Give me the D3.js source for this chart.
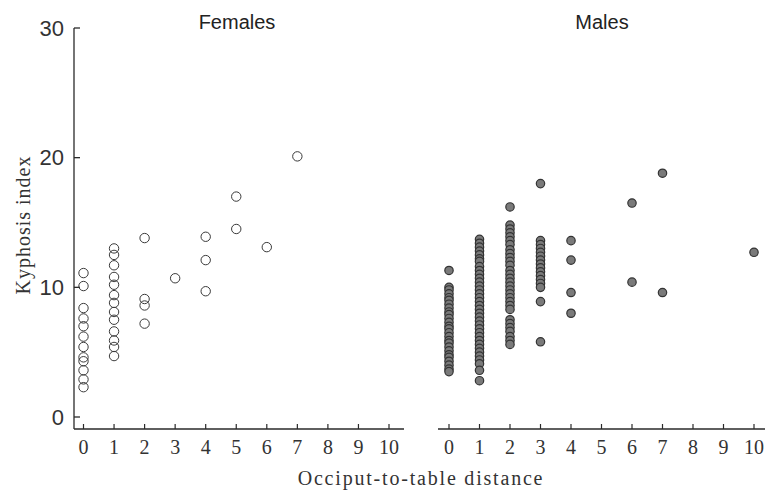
<!DOCTYPE html>
<html>
<head>
<meta charset="utf-8">
<script src="https://cdn.jsdelivr.net/npm/d3@7"></script>
<style>
  body { margin: 0; background: #fff; }
  svg { display: block; }
</style>
</head>
<body>
<svg id="chart" width="765" height="493"></svg>
<script>
// kyphosis index by occiput-to-table distance, one list of values per distance
const distTicks = [0, 1, 2, 3, 4, 5, 6, 7, 8, 9, 10];
const kyphTicks = [0, 10, 20, 30];

const femaleCols = [
  [0, [11.1, 10.1, 8.4, 7.6, 7.0, 6.2, 5.4, 4.6, 4.3, 3.6, 2.9, 2.3]],
  [1, [13.0, 12.5, 11.7, 10.8, 10.2, 9.4, 8.8, 8.1, 7.5, 6.6, 5.9, 5.4, 4.7]],
  [2, [13.8, 9.1, 8.6, 7.2]],
  [3, [10.7]],
  [4, [13.9, 12.1, 9.7]],
  [5, [17.0, 14.5]],
  [6, [13.1]],
  [7, [20.1]]
];

const maleCols = [
  [0, [11.3, 10.0, 9.8, 9.5, 9.2, 9.0, 8.7, 8.4, 8.1, 7.9, 7.6, 7.3, 7.0, 6.8, 6.5, 6.2, 5.9, 5.7, 5.4, 5.1, 4.8, 4.6, 4.3, 4.0, 3.7, 3.5]],
  [1, [13.7, 13.4, 13.1, 12.8, 12.5, 12.2, 12.0, 11.6, 11.3, 11.0, 10.7, 10.4, 10.1, 9.8, 9.5, 9.2, 8.9, 8.6, 8.3, 8.0, 7.7, 7.4, 7.1, 6.8, 6.5, 6.2, 5.9, 5.6, 5.3, 5.0, 4.7, 4.4, 4.1, 3.6, 2.8]],
  [2, [16.2, 14.8, 14.5, 14.2, 13.9, 13.6, 13.3, 12.9, 12.6, 12.3, 12.0, 11.7, 11.3, 11.0, 10.7, 10.4, 10.1, 9.8, 9.5, 9.2, 8.9, 8.6, 8.3, 7.5, 7.2, 6.9, 6.6, 6.2, 5.9, 5.6]],
  [3, [18.0, 13.6, 13.3, 13.0, 12.7, 12.4, 12.1, 11.8, 11.5, 11.2, 10.9, 10.6, 10.3, 10.0, 8.9, 5.8]],
  [4, [13.6, 12.1, 9.6, 8.0]],
  [6, [16.5, 10.4]],
  [7, [18.8, 9.6]],
  [10, [12.7]]
];

function flatten(cols) {
  const pts = [];
  cols.forEach(function(c) {
    c[1].forEach(function(v) { pts.push({ d: c[0], k: v }); });
  });
  return pts;
}

const svg = d3.select("#chart");
const serif = "'Liberation Serif', 'DejaVu Serif', serif";
const sans = "'Liberation Sans', Arial, sans-serif";
const ink = "#2a2a2a";

const y = d3.scaleLinear().domain([0, 30]).range([417, 28]);
const xF = d3.scaleLinear().domain([0, 10]).range([83.5, 389]);
const xM = d3.scaleLinear().domain([0, 10]).range([449, 754]);

const axisY = 429;

// y axis (left panel only), ticks pointing inward
const gy = svg.append("g").attr("transform", "translate(74,0)");
gy.append("line")
  .attr("y1", y(30)).attr("y2", axisY)
  .attr("stroke", ink).attr("stroke-width", 1.3);
gy.selectAll("line.tick").data(kyphTicks).enter().append("line")
  .attr("class", "tick")
  .attr("x1", 0).attr("x2", 6)
  .attr("y1", function(d) { return y(d); }).attr("y2", function(d) { return y(d); })
  .attr("stroke", ink).attr("stroke-width", 1.3);
gy.selectAll("text").data(kyphTicks).enter().append("text")
  .attr("x", -10).attr("y", function(d) { return y(d); })
  .attr("dy", "0.35em")
  .attr("text-anchor", "end")
  .attr("font-family", sans).attr("font-size", 22)
  .attr("fill", "#333")
  .text(function(d) { return d; });

// x axes, one per panel
function xAxis(scale, x0, x1) {
  const g = svg.append("g");
  g.append("line")
    .attr("x1", x0).attr("x2", x1)
    .attr("y1", axisY).attr("y2", axisY)
    .attr("stroke", ink).attr("stroke-width", 1.3);
  g.selectAll("line.tick").data(distTicks).enter().append("line")
    .attr("class", "tick")
    .attr("x1", function(d) { return scale(d); }).attr("x2", function(d) { return scale(d); })
    .attr("y1", axisY).attr("y2", axisY - 5)
    .attr("stroke", ink).attr("stroke-width", 1.2);
  g.selectAll("text").data(distTicks).enter().append("text")
    .attr("x", function(d) { return scale(d); })
    .attr("y", axisY + 18).attr("dy", "0.35em")
    .attr("text-anchor", "middle")
    .attr("font-family", serif).attr("font-size", 20)
    .attr("fill", "#333")
    .text(function(d) { return d; });
}
xAxis(xF, 74, 404);
xAxis(xM, 438, 765);

// females: open circles
svg.append("g").selectAll("circle")
  .data(flatten(femaleCols)).enter().append("circle")
  .attr("cx", function(d) { return xF(d.d); })
  .attr("cy", function(d) { return y(d.k); })
  .attr("r", 4.7)
  .attr("fill", "none")
  .attr("stroke", "#3a3a3a").attr("stroke-width", 1);

// males: filled grey dots
svg.append("g").selectAll("circle")
  .data(flatten(maleCols)).enter().append("circle")
  .attr("cx", function(d) { return xM(d.d); })
  .attr("cy", function(d) { return y(d.k); })
  .attr("r", 4.2)
  .attr("fill", "#7a7a7a")
  .attr("stroke", "#333").attr("stroke-width", 1.2);

// panel titles
svg.append("text")
  .attr("x", 237).attr("y", 22).attr("dy", "0.35em")
  .attr("text-anchor", "middle")
  .attr("font-family", sans).attr("font-size", 20).attr("fill", "#222")
  .text("Females");
svg.append("text")
  .attr("x", 602).attr("y", 22).attr("dy", "0.35em")
  .attr("text-anchor", "middle")
  .attr("font-family", sans).attr("font-size", 20).attr("fill", "#222")
  .text("Males");

// axis titles
svg.append("text")
  .attr("transform", "translate(23,225) rotate(-90)")
  .attr("dy", "0.35em")
  .attr("text-anchor", "middle")
  .attr("font-family", serif).attr("font-size", 20).attr("fill", "#333")
  .attr("letter-spacing", 1)
  .text("Kyphosis index");
svg.append("text")
  .attr("x", 421).attr("y", 478).attr("dy", "0.35em")
  .attr("text-anchor", "middle")
  .attr("font-family", serif).attr("font-size", 20).attr("fill", "#333")
  .attr("letter-spacing", 1.8)
  .text("Occiput-to-table distance");
</script>
</body>
</html>
